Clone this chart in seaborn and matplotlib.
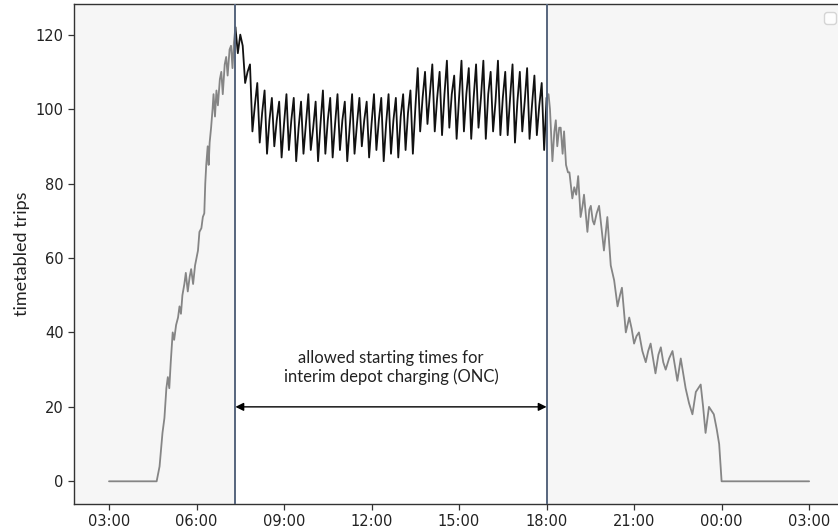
import numpy as np
import pandas as pd
import matplotlib
matplotlib.use("Agg")
import matplotlib.pyplot as plt
import matplotlib.dates as mdates
import seaborn as sns

# ---------------- data ----------------
left_times = ["03:00", "04:38", "04:44", "04:50", "04:54", "04:58", "05:01", "05:04", "05:07",
              "05:11", "05:14", "05:18", "05:22", "05:25", "05:28", "05:31", "05:35", "05:38",
              "05:42", "05:46", "05:49", "05:53", "05:57", "06:00", "06:03", "06:06", "06:10",
              "06:13", "06:16", "06:18", "06:20", "06:23", "06:25", "06:27", "06:30", "06:33",
              "06:35", "06:38", "06:41", "06:44", "06:48", "06:51", "06:54", "06:58", "07:01",
              "07:04", "07:08", "07:11", "07:14", "07:17", "07:20"]
left_trips = [0, 0, 4, 13, 17, 25, 28, 25, 32,
              40, 38, 42, 44, 47, 45, 50, 53, 56,
              51, 55, 57, 53, 58, 60, 62, 67, 68,
              71, 72, 80, 85, 90, 85, 91, 95, 100,
              104, 98, 105, 101, 108, 110, 104, 112, 114,
              109, 116, 117, 111, 118, 122]

# charging window, sampled every 5 minutes from 07:20 to 18:00
mid_start, mid_end = "07:20", "18:00"
mid_trips = [
    122, 115, 120, 117, 107, 110, 112, 94,                      # 07:20-07:55
    101, 107, 91, 99, 105, 88, 97, 103, 90, 97, 102, 87,          # 08
    96, 104, 89, 97, 103, 86, 95, 102, 88, 96, 104, 89,           # 09
    95, 102, 86, 96, 105, 88, 97, 103, 87, 96, 104, 89,           # 10
    97, 102, 86, 95, 104, 88, 96, 103, 90, 97, 102, 87,           # 11
    96, 104, 89, 97, 103, 86, 96, 104, 88, 97, 103, 87,           # 12
    98, 104, 89, 99, 105, 88, 100, 111, 94, 103, 110, 96,         # 13
    104, 112, 94, 103, 110, 93, 104, 113, 95, 104, 109, 92,       # 14
    103, 113, 94, 104, 111, 92, 103, 112, 95, 103, 113, 92,       # 15
    104, 110, 94, 102, 113, 93, 103, 110, 93, 103, 112, 91,       # 16
    102, 110, 94, 102, 111, 92, 101, 109, 93, 101, 107, 89,       # 17
    103,                                                          # 18:00
]

right_times = ["18:00", "18:04", "18:07", "18:12", "18:16", "18:19", "18:22", "18:26", "18:29",
               "18:33", "18:36", "18:40", "18:44", "18:47", "18:53", "18:57", "19:01", "19:05",
               "19:10", "19:14", "19:17", "19:24", "19:28", "19:31", "19:35", "19:38", "19:43",
               "19:48", "19:53", "19:58", "20:05", "20:12", "20:19", "20:26", "20:31", "20:35",
               "20:43", "20:50", "20:55", "21:00", "21:05", "21:10", "21:17", "21:24", "21:29",
               "21:34", "21:39", "21:44", "21:50", "21:55", "22:00", "22:05", "22:12", "22:19",
               "22:24", "22:29", "22:36", "22:41", "22:46", "22:53", "23:00", "23:07", "23:12",
               "23:17", "23:22", "23:27", "23:34", "23:39", "23:44", "23:50", "23:55", "00:00",
               "03:00"]
right_trips = [103, 104, 100, 86, 94, 97, 90, 95, 95,
               88, 94, 85, 83, 83, 76, 79, 77, 82,
               71, 74, 77, 67, 73, 74, 70, 69, 72,
               74, 68, 62, 71, 58, 54, 47, 50, 52,
               40, 44, 41, 37, 39, 40, 35, 32, 35,
               37, 33, 29, 34, 36, 32, 30, 33, 35,
               31, 27, 33, 29, 25, 21, 18, 24, 25,
               26, 20, 13, 20, 19, 18, 14, 10, 0,
               0]

window_label = "allowed starting times for\ninterim depot charging (ONC)"
y_label = "timetabled trips"

# ---------------- helpers ----------------
BASE = pd.Timestamp("2023-01-01")


def to_dt(times):
    out, day, prev = [], 0, None
    for t in times:
        h, m = map(int, t.split(":"))
        v = BASE + pd.Timedelta(days=day, hours=h, minutes=m)
        if prev is not None and v < prev:
            day += 1
            v += pd.Timedelta(days=1)
        out.append(v)
        prev = v
    return out


left_df = pd.DataFrame({"time": to_dt(left_times), "trips": left_trips})
mid_idx = pd.date_range(to_dt([mid_start])[0], to_dt([mid_end])[0], freq="5min")
mid_df = pd.DataFrame({"time": mid_idx, "trips": mid_trips})
right_df = pd.DataFrame({"time": to_dt(right_times), "trips": right_trips})

win_start = mid_df["time"].iloc[0]
win_end = mid_df["time"].iloc[-1]

# ---------------- figure ----------------
sns.set_theme(style="white")
plt.rcParams["font.family"] = ["DejaVu Sans"]

fig = plt.figure(figsize=(8.38, 5.32), dpi=100)
ax = fig.add_axes([0.0883, 0.0526, 0.919, 0.939])
ax.set_facecolor("#f6f6f6")
ax.axvspan(win_start, win_end, color="white", zorder=0, lw=0)

gray = "#858585"
sns.lineplot(data=left_df, x="time", y="trips", ax=ax, color=gray, lw=1.3,
             estimator=None, legend=False)
sns.lineplot(data=right_df, x="time", y="trips", ax=ax, color=gray, lw=1.3,
             estimator=None, legend=False)
sns.lineplot(data=mid_df, x="time", y="trips", ax=ax, color="#111111", lw=1.3,
             estimator=None, legend=False)

vcol = "#56657d"
ax.axvline(win_start, color=vcol, lw=1.4, zorder=3)
ax.axvline(win_end, color=vcol, lw=1.4, zorder=3)

ax.annotate("", xy=(win_start, 20), xytext=(win_end, 20),
            arrowprops=dict(arrowstyle="<|-|>", color="black", lw=1.0,
                            mutation_scale=12, shrinkA=0, shrinkB=0))
mid_t = win_start + (win_end - win_start) / 2
ax.text(mid_t, 30.6, window_label, ha="center", va="center", fontsize=12,
        family=["Lato", "DejaVu Sans"], color="#222222", linespacing=1.2)

ax.set_xlim(BASE + pd.Timedelta(hours=1, minutes=48), BASE + pd.Timedelta(days=1, hours=4, minutes=12))
ax.set_ylim(-6.1, 128.1)
ax.set_yticks([0, 20, 40, 60, 80, 100, 120])
ax.xaxis.set_major_locator(mdates.HourLocator(byhour=range(0, 24, 3)))
ax.xaxis.set_major_formatter(mdates.DateFormatter("%H:%M"))

ax.set_xlabel("")
ax.set_ylabel(y_label, fontsize=13, family=["Lato", "DejaVu Sans"], color="#222222", labelpad=4)
ax.tick_params(axis="both", which="major", bottom=True, left=True, direction="out",
               length=4, width=0.9, color="#333333", labelsize=10.5, labelcolor="#222222")
for s in ax.spines.values():
    s.set_color("#333333")
    s.set_linewidth(1.0)

ax.legend(handles=[], labels=[], loc="upper right")

fig.savefig("out.png", dpi=100)
